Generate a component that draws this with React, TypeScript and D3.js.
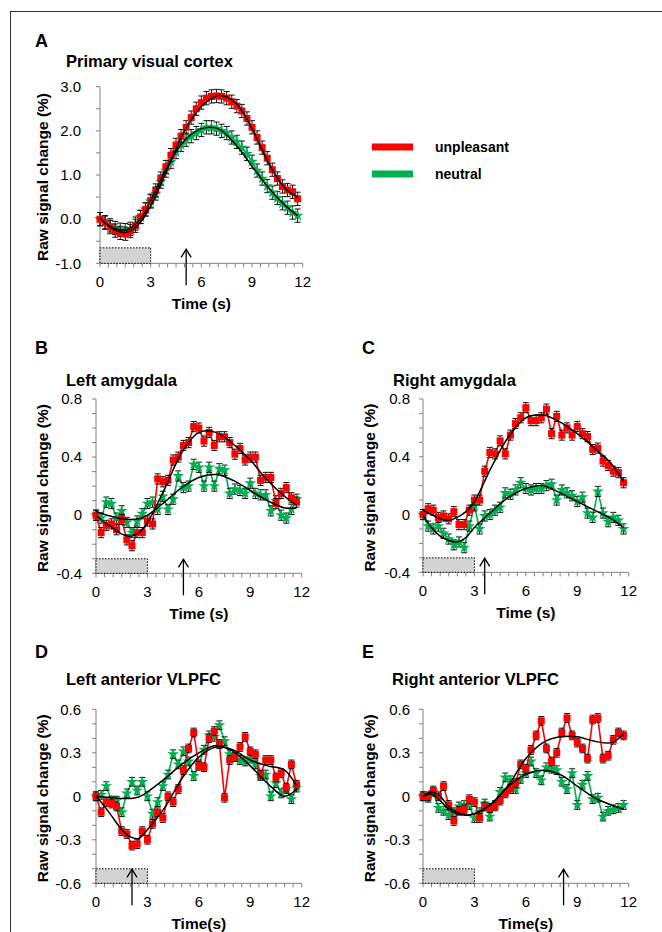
import * as d3 from "d3";

// time of each scan (s)
const TIME = [0, 0.3, 0.6, 0.9, 1.2, 1.5, 1.8, 2.1, 2.4, 2.7, 3.0, 3.3, 3.6, 3.9, 4.2, 4.5, 4.8, 5.1, 5.4, 5.7,
  6.0, 6.3, 6.6, 6.9, 7.2, 7.5, 7.8, 8.1, 8.4, 8.7, 9.0, 9.3, 9.6, 9.9, 10.2, 10.5, 10.8, 11.1, 11.4, 11.7];
// time points for the fitted curves
const FIT_T = [0, 0.5, 1, 1.5, 2, 2.5, 3, 4, 5, 6, 7, 8, 9, 10, 11, 11.7];

// A: primary visual cortex
const A_RED = [0.0, -0.08, -0.18, -0.26, -0.31, -0.33, -0.27, -0.15, 0.05, 0.22, 0.42, 0.65, 0.92, 1.18, 1.45, 1.68, 1.88, 2.08, 2.30, 2.50,
  2.64, 2.74, 2.78, 2.79, 2.78, 2.74, 2.66, 2.56, 2.45, 2.28, 2.08, 1.85, 1.62, 1.38, 1.12, 0.92, 0.74, 0.66, 0.62, 0.46];
const A_GREEN = [0.0, -0.07, -0.14, -0.20, -0.24, -0.25, -0.22, -0.10, 0.05, 0.22, 0.40, 0.58, 0.85, 1.10, 1.30, 1.52, 1.68, 1.80, 1.88, 1.95,
  2.02, 2.08, 2.08, 2.05, 2.00, 1.95, 1.85, 1.75, 1.62, 1.48, 1.30, 1.10, 0.92, 0.75, 0.60, 0.48, 0.36, 0.26, 0.15, 0.08];
const A_RED_FIT = [0.02, -0.15, -0.27, -0.3, -0.22, -0.02, 0.3, 1.15, 2.0, 2.55, 2.8, 2.65, 2.05, 1.25, 0.68, 0.5];
const A_GREEN_FIT = [0.02, -0.14, -0.23, -0.25, -0.15, 0.05, 0.42, 1.2, 1.78, 2.05, 2.05, 1.7, 1.2, 0.7, 0.3, 0.08];
const A_ERR = 0.15;

// B: left amygdala
const B_RED = [0.0, -0.12, -0.07, -0.06, -0.10, -0.03, -0.17, -0.21, -0.12, -0.12, -0.04, -0.06, 0.25, 0.23, 0.24, 0.38, 0.40, 0.48, 0.50, 0.61,
  0.60, 0.51, 0.57, 0.48, 0.54, 0.54, 0.50, 0.42, 0.46, 0.38, 0.40, 0.40, 0.24, 0.26, 0.26, 0.08, 0.15, 0.19, 0.12, 0.09];
const B_GREEN = [0.0, -0.02, 0.09, 0.08, -0.02, 0.03, -0.05, -0.12, -0.04, 0.01, 0.08, 0.09, 0.04, 0.13, 0.04, 0.11, 0.27, 0.19, 0.20, 0.35,
  0.33, 0.20, 0.33, 0.20, 0.32, 0.31, 0.15, 0.18, 0.17, 0.15, 0.22, 0.15, 0.14, 0.14, 0.03, 0.10, 0.00, -0.02, 0.04, 0.11];
const B_RED_FIT = [0.0, -0.05, -0.09, -0.13, -0.145, -0.12, -0.05, 0.18, 0.43, 0.57, 0.57, 0.49, 0.38, 0.24, 0.13, 0.07];
const B_GREEN_FIT = [0.025, 0.005, -0.01, -0.025, -0.03, -0.025, 0.0, 0.09, 0.19, 0.26, 0.28, 0.24, 0.17, 0.1, 0.05, 0.05];
const B_ERR = 0.035;

// C: right amygdala
const C_RED = [0.0, 0.04, 0.03, -0.02, -0.01, -0.03, 0.02, -0.07, -0.07, 0.03, 0.10, 0.10, 0.30, 0.43, 0.42, 0.51, 0.42, 0.55, 0.63, 0.67,
  0.74, 0.65, 0.65, 0.67, 0.73, 0.56, 0.68, 0.55, 0.60, 0.55, 0.61, 0.56, 0.54, 0.45, 0.46, 0.37, 0.34, 0.30, 0.29, 0.22];
const C_GREEN = [0.0, -0.08, -0.10, -0.08, -0.13, -0.17, -0.21, -0.19, -0.23, -0.08, 0.06, -0.10, -0.01, 0.00, 0.03, 0.05, 0.15, 0.14, 0.17, 0.22,
  0.18, 0.17, 0.18, 0.18, 0.20, 0.21, 0.10, 0.17, 0.15, 0.13, 0.09, 0.12, 0.01, -0.02, 0.16, 0.01, -0.05, -0.02, -0.04, -0.10];
const C_RED_FIT = [0.03, 0.0, -0.03, -0.04, -0.02, 0.02, 0.09, 0.33, 0.54, 0.67, 0.69, 0.64, 0.56, 0.46, 0.35, 0.23];
const C_GREEN_FIT = [0.0, -0.09, -0.15, -0.18, -0.19, -0.16, -0.09, 0.02, 0.12, 0.18, 0.2, 0.15, 0.09, 0.03, -0.03, -0.09];
const C_ERR = 0.035;

// D: left anterior VLPFC
const D_RED = [0.0, -0.11, -0.04, -0.05, -0.07, -0.24, -0.26, -0.34, -0.33, -0.24, -0.30, -0.19, -0.11, -0.15, 0.0, -0.04, 0.05, 0.18, 0.33, 0.44,
  0.21, 0.20, 0.40, 0.45, 0.36, -0.01, 0.25, 0.27, 0.34, 0.41, 0.31, 0.29, 0.15, 0.25, 0.25, 0.13, 0.16, 0.06, 0.22, 0.08];
const D_GREEN = [0.0, 0.01, 0.07, -0.03, -0.03, -0.11, 0.02, 0.10, 0.04, 0.10, 0.00, -0.12, -0.04, 0.07, 0.15, 0.29, 0.22, 0.31, 0.24, 0.14,
  0.22, 0.32, 0.42, 0.41, 0.49, 0.38, 0.29, 0.27, 0.25, 0.24, 0.26, 0.22, 0.14, 0.15, 0.00, 0.09, 0.02, 0.05, -0.02, 0.06];
const D_RED_FIT = [0.0, -0.07, -0.15, -0.23, -0.28, -0.29, -0.23, -0.08, 0.12, 0.27, 0.34, 0.32, 0.25, 0.21, 0.18, 0.07];
const D_GREEN_FIT = [0.0, -0.005, -0.01, -0.015, -0.015, -0.005, 0.03, 0.12, 0.22, 0.3, 0.35, 0.31, 0.21, 0.09, 0.0, 0.05];
const D_ERR = 0.03;

// E: right anterior VLPFC
const E_RED = [0.0, 0.0, 0.04, 0.0, 0.07, -0.06, -0.17, -0.10, -0.09, -0.02, -0.04, -0.15, -0.07, -0.08, -0.07, -0.03, 0.02, 0.05, 0.09, 0.22,
  0.19, 0.32, 0.42, 0.52, 0.33, 0.24, 0.30, 0.44, 0.54, 0.42, 0.37, 0.33, 0.26, 0.53, 0.54, 0.26, 0.28, 0.39, 0.44, 0.42];
const E_GREEN = [0.0, -0.01, 0.03, -0.08, -0.10, -0.13, -0.11, -0.07, -0.06, -0.06, -0.15, -0.11, -0.05, -0.14, -0.06, 0.03, 0.13, 0.11, 0.05, 0.12,
  0.16, 0.24, 0.16, 0.11, 0.20, 0.19, 0.18, 0.10, 0.05, 0.16, -0.06, 0.08, 0.14, -0.02, -0.01, -0.14, -0.10, -0.09, -0.08, -0.06];
const E_RED_FIT = [0.0, 0.03, 0.0, -0.07, -0.11, -0.13, -0.12, -0.05, 0.08, 0.26, 0.37, 0.41, 0.41, 0.38, 0.37, 0.43];
const E_GREEN_FIT = [0.0, 0.015, -0.03, -0.09, -0.12, -0.13, -0.12, -0.05, 0.07, 0.15, 0.18, 0.15, 0.07, -0.01, -0.06, -0.09];
const E_ERR = 0.03;

// axis ticks
const X_TICKS = [0, 3, 6, 9, 12];
const A_TICKS = [3, 2, 1, 0, -1];
const A_TICK_LABELS = ["3.0", "2.0", "1.0", "0.0", "-1.0"];
const AMY_TICKS = [0.8, 0.4, 0, -0.4];
const AMY_TICK_LABELS = ["0.8", "0.4", "0", "-0.4"];
const PFC_TICKS = [0.6, 0.3, 0, -0.3, -0.6];
const PFC_TICK_LABELS = ["0.6", "0.3", "0", "-0.3", "-0.6"];

const RED = "#ff0000";
const GREEN = "#00b050";
const FONT = "Arial, 'Liberation Sans', sans-serif";

const panels = [
  { letter: "A", title: "Primary visual cortex", xLabel: "Time (s)", x0: 100, x1: 302.7, yTop: 86.7, yBot: 263.3,
    domain: [-1, 3], ticks: A_TICKS, tickLabels: A_TICK_LABELS, minor: 0.5, boxTop: -0.65, arrowAt: 5.1,
    red: A_RED, green: A_GREEN, redFit: A_RED_FIT, greenFit: A_GREEN_FIT, err: A_ERR,
    labelRight: 81, letterX: 35, letterY: 47, titleX: 66, titleY: 67, yLabelX: 47.5 },
  { letter: "B", title: "Left amygdala", xLabel: "Time (s)", x0: 96, x1: 301.7, yTop: 399, yBot: 573.3,
    domain: [-0.4, 0.8], ticks: AMY_TICKS, tickLabels: AMY_TICK_LABELS, minor: 0.1, boxTop: -0.3, arrowAt: 5.1,
    red: B_RED, green: B_GREEN, redFit: B_RED_FIT, greenFit: B_GREEN_FIT, err: B_ERR,
    labelRight: 82, letterX: 35, letterY: 354, titleX: 66, titleY: 386, yLabelX: 47.5 },
  { letter: "C", title: "Right amygdala", xLabel: "Time (s)", x0: 423, x1: 628.7, yTop: 399, yBot: 572.3,
    domain: [-0.4, 0.8], ticks: AMY_TICKS, tickLabels: AMY_TICK_LABELS, minor: 0.1, boxTop: -0.3, arrowAt: 3.6,
    red: C_RED, green: C_GREEN, redFit: C_RED_FIT, greenFit: C_GREEN_FIT, err: C_ERR,
    labelRight: 410, letterX: 362, letterY: 354, titleX: 393, titleY: 386, yLabelX: 375 },
  { letter: "D", title: "Left anterior VLPFC", xLabel: "Time(s)", x0: 96, x1: 301.7, yTop: 709.3, yBot: 883.3,
    domain: [-0.6, 0.6], ticks: PFC_TICKS, tickLabels: PFC_TICK_LABELS, minor: 0.1, boxTop: -0.5, arrowAt: 2.1,
    red: D_RED, green: D_GREEN, redFit: D_RED_FIT, greenFit: D_GREEN_FIT, err: D_ERR,
    labelRight: 81, letterX: 35, letterY: 658, titleX: 66, titleY: 685, yLabelX: 47.5 },
  { letter: "E", title: "Right anterior VLPFC", xLabel: "Time(s)", x0: 423, x1: 628.7, yTop: 709.3, yBot: 883.3,
    domain: [-0.6, 0.6], ticks: PFC_TICKS, tickLabels: PFC_TICK_LABELS, minor: 0.1, boxTop: -0.5, arrowAt: 8.2,
    red: E_RED, green: E_GREEN, redFit: E_RED_FIT, greenFit: E_GREEN_FIT, err: E_ERR,
    labelRight: 410, letterX: 362, letterY: 658, titleX: 392, titleY: 685, yLabelX: 375 },
];

const starPath = d3.symbol(d3.symbolStar, 42)();

const Series = ({ values, color, err, xs, ys, marker }) => {
  const pts = TIME.map((t, i) => [xs(t), ys(values[i])]);
  const line = d3.line()(pts);
  return (
    <g>
      <path d={line} fill="none" stroke={color} strokeWidth={1.6} />
      {pts.map(([x], i) => {
        const yHi = ys(values[i] + err);
        const yLo = ys(values[i] - err);
        return (
          <g key={"e" + i} stroke="#111" strokeWidth={1}>
            <line x1={x} x2={x} y1={yHi} y2={yLo} />
            <line x1={x - 3} x2={x + 3} y1={yHi} y2={yHi} />
            <line x1={x - 3} x2={x + 3} y1={yLo} y2={yLo} />
          </g>
        );
      })}
      {pts.map(([x, y], i) =>
        marker === "square" ? (
          <rect key={"m" + i} x={x - 3.5} y={y - 3.5} width={7} height={7} fill={color} />
        ) : (
          <path key={"m" + i} d={starPath} transform={`translate(${x},${y})`} fill={color} />
        )
      )}
    </g>
  );
};

const Panel = ({ p }) => {
  const xs = d3.scaleLinear().domain([0, 12]).range([p.x0, p.x1]);
  const ys = d3.scaleLinear().domain(p.domain).range([p.yBot, p.yTop]);
  const fitLine = d3.line().curve(d3.curveCatmullRom.alpha(0.5));
  const xMinor = d3.range(0, 12.001, 0.5);
  const yMinor = d3.range(p.domain[0], p.domain[1] + 1e-6, p.minor);
  const ax = xs(p.arrowAt);
  const aTop = p.yBot - 14;
  const yMid = (p.yTop + p.yBot) / 2 + 2;

  return (
    <g fontFamily={FONT}>
      <text x={p.letterX} y={p.letterY} fontSize={18} fontWeight="bold">{p.letter}</text>
      <text x={p.titleX} y={p.titleY} fontSize={16.5} fontWeight="bold">{p.title}</text>

      {/* axes */}
      <g stroke="#808080" strokeWidth={1}>
        <line x1={p.x0} x2={p.x0} y1={p.yTop} y2={p.yBot} />
        <line x1={p.x0} x2={p.x1} y1={p.yBot} y2={p.yBot} />
        {yMinor.map((v, i) => (
          <line key={"yt" + i} x1={p.x0 - 4} x2={p.x0} y1={ys(v)} y2={ys(v)} />
        ))}
        {xMinor.map((v, i) => (
          <line key={"xt" + i} x1={xs(v)} x2={xs(v)} y1={p.yBot} y2={p.yBot + 4} />
        ))}
      </g>
      {p.ticks.map((v, i) => (
        <text key={"yl" + i} x={p.labelRight} y={ys(v)} dy="0.35em" textAnchor="end" fontSize={15}>
          {p.tickLabels[i]}
        </text>
      ))}
      {X_TICKS.map((v) => (
        <text key={"xl" + v} x={xs(v)} y={p.yBot + 24} textAnchor="middle" fontSize={15}>{v}</text>
      ))}
      <text x={(p.x0 + p.x1) / 2} y={p.yBot + 46} textAnchor="middle" fontSize={15.5} fontWeight="bold">
        {p.xLabel}
      </text>
      <text transform={`translate(${p.yLabelX},${yMid}) rotate(-90)`} textAnchor="middle" fontSize={15.5} fontWeight="bold">
        Raw signal change (%)
      </text>

      {/* stimulus period */}
      <rect x={xs(0)} y={ys(p.boxTop)} width={xs(3) - xs(0)} height={p.yBot - ys(p.boxTop)}
        fill="#d3d3d3" stroke="#000" strokeWidth={1} strokeDasharray="1.5,1.5" />

      <Series values={p.green} color={GREEN} err={p.err} xs={xs} ys={ys} marker="star" />
      <Series values={p.red} color={RED} err={p.err} xs={xs} ys={ys} marker="square" />

      <path d={fitLine(FIT_T.map((t, i) => [xs(t), ys(p.greenFit[i])]))} fill="none" stroke="#000" strokeWidth={1.5} />
      <path d={fitLine(FIT_T.map((t, i) => [xs(t), ys(p.redFit[i])]))} fill="none" stroke="#000" strokeWidth={1.5} />

      {/* arrow */}
      <g stroke="#000" strokeWidth={1.3} fill="none">
        <line x1={ax} x2={ax} y1={p.yBot + 22} y2={aTop} />
        <polyline points={`${ax - 5},${aTop + 8} ${ax},${aTop} ${ax + 5},${aTop + 8}`} />
      </g>
    </g>
  );
};

export default function App() {
  return (
    <svg width={662} height={932} style={{ position: "absolute", left: 0, top: 0, background: "#fff" }}>
      <rect x={10.5} y={11.5} width={700} height={1000} fill="#fff" stroke="#333" strokeWidth={1} />
      {panels.map((p) => (
        <Panel key={p.letter} p={p} />
      ))}
      {/* legend */}
      <g fontFamily={FONT} fontWeight="bold" fontSize={14}>
        <rect x={372} y={143.5} width={41} height={7} fill={RED} />
        <rect x={372} y={170.5} width={41} height={7} fill={GREEN} />
        <text x={435} y={152}>unpleasant</text>
        <text x={435} y={178.5}>neutral</text>
      </g>
    </svg>
  );
}
